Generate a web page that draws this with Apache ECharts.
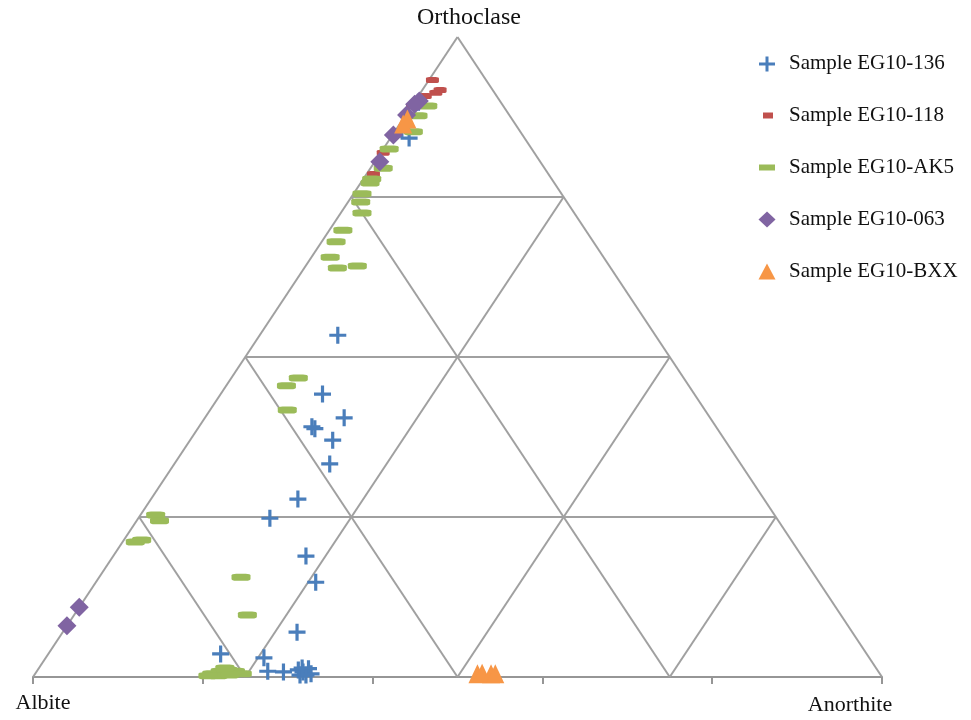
<!DOCTYPE html>
<html>
<head>
<meta charset="utf-8">
<script src="https://cdn.jsdelivr.net/npm/echarts@6/dist/echarts.min.js"></script>
<style>html,body{margin:0;padding:0;background:#fff;}#c{width:971px;height:720px;}</style>
</head>
<body>
<div id="c"></div>
<script>
// Ternary compositions [Or %, An %] (Ab = 100 - Or - An)
var seriesNames = ['Sample EG10-136', 'Sample EG10-118', 'Sample EG10-AK5', 'Sample EG10-063', 'Sample EG10-BXX'];
var vertexLabels = ['Orthoclase', 'Albite', 'Anorthite'];
var gridFractions = [25, 50, 75];
var baseTicks = [0, 20, 40, 60, 80, 100];

var eg136 = [
  [53.4, 9.2], [44.2, 12.0], [40.5, 16.4], [39.1, 13.3], [38.8, 13.8], [37.0, 16.8],
  [33.3, 18.3], [27.8, 17.3], [24.8, 15.5], [18.9, 22.7], [14.8, 25.9], [7.0, 27.6],
  [3.6, 20.3], [3.0, 25.7], [0.9, 27.2], [0.8, 29.1], [1.1, 30.7], [0.8, 31.4],
  [1.3, 31.8], [0.5, 32.5], [0.3, 31.3], [0.3, 32.0], [1.4, 31.0],
  [89.8, 0.5], [84.2, 2.2], [85.5, 0.7]
];
var eg118 = [
  [93.3, 0.4], [91.7, 2.1], [91.3, 1.8], [90.8, 0.8], [89.2, 0.1], [81.9, 0.3], [78.6, 0.8]
];
var egAK5 = [
  [89.2, 1.9], [87.7, 1.5], [85.2, 2.2], [82.5, 0.7], [79.5, 1.5], [77.8, 1.0], [77.2, 1.1],
  [75.5, 1.0], [74.2, 1.5], [72.5, 2.5], [69.8, 1.6], [68.0, 1.7], [65.6, 2.2], [63.9, 3.9],
  [64.2, 6.1], [46.7, 7.9], [45.5, 7.1], [41.7, 9.1], [25.3, 1.8], [24.4, 2.7], [21.4, 2.1],
  [21.1, 1.5], [15.6, 16.7], [9.7, 20.4],
  [0.5, 20.8], [0.9, 21.6], [1.1, 22.4], [0.9, 23.4], [0.5, 24.4], [0.2, 21.7], [0.3, 23.0],
  [1.4, 21.9], [0.2, 20.5]
];
var eg063 = [
  [10.9, 0.0], [8.0, 0.0], [80.5, 0.6], [84.7, 0.1], [87.8, 0.1], [90.0, 0.5], [89.5, 0.2]
];
var egBXX = [
  [86.4, 0.4], [87.2, 0.5], [0.5, 52.1], [0.6, 52.6], [0.5, 53.7], [0.5, 54.2]
];

function toXY(arr) {
  return arr.map(function (p) { var or = p[0], an = p[1]; return [an + or / 2, or]; });
}

// triangle outline + internal grid
var gridLines = [];
gridLines.push({coords: [[0, 0], [50, 100]]});
gridLines.push({coords: [[50, 100], [100, 0]]});
gridFractions.forEach(function (f) {
  gridLines.push({coords: [[f / 2, f], [100 - f / 2, f]]});             // constant Or
  gridLines.push({coords: [[f, 0], [f + (100 - f) / 2, 100 - f]]});     // constant An
  gridLines.push({coords: [[100 - f, 0], [(100 - f) / 2, 100 - f]]});   // constant Ab
});

var crossPath = 'path://M6.5,0H9.5V6.5H16V9.5H9.5V16H6.5V9.5H0V6.5H6.5Z';
// legend icons with a fixed 18x16 bounding box (degenerate corner segments)
var box = 'M0,0L0,0M18,16L18,16';
var iconCross = 'path://' + box + 'M7.5,1H10.5V7H17V10H10.5V16H7.5V10H1V7H7.5Z';
var iconRed = 'path://' + box + 'M5,5H15V11H5Z';
var iconGreen = 'path://' + box + 'M1,5H17V11H1Z';
var iconDiamond = 'path://' + box + 'M9,0L17.5,8L9,16L0.5,8Z';
var iconTri = 'path://' + box + 'M9,0L17.5,16H0.5Z';
var serif = '"Liberation Serif", "Times New Roman", serif';

var chart = echarts.init(document.getElementById('c'), null, {renderer: 'canvas'});
chart.setOption({
  animation: false,
  backgroundColor: '#fff',
  grid: {left: 33, right: 89, top: 37, bottom: 43},
  xAxis: {
    type: 'value', min: 0, max: 100, interval: 20,
    splitLine: {show: false},
    axisLabel: {show: false},
    axisLine: {show: true, lineStyle: {color: '#969696', width: 2}},
    axisTick: {show: true, length: 7, lineStyle: {color: '#969696', width: 2}}
  },
  yAxis: {
    type: 'value', min: 0, max: 100, show: false
  },
  legend: {
    orient: 'vertical', left: 753, top: 48, itemGap: 31,
    itemWidth: 18, itemHeight: 16,
    textStyle: {fontFamily: serif, fontSize: 21, color: '#111', padding: [0, 0, 0, 8]},
    data: [
      {name: seriesNames[0], icon: iconCross},
      {name: seriesNames[1], icon: iconRed},
      {name: seriesNames[2], icon: iconGreen},
      {name: seriesNames[3], icon: iconDiamond},
      {name: seriesNames[4], icon: iconTri}
    ]
  },
  graphic: [
    {type: 'text', style: {text: vertexLabels[0], x: 469, y: 18, fill: '#111', font: '24px ' + serif, textAlign: 'center', textVerticalAlign: 'middle'}},
    {type: 'text', style: {text: vertexLabels[1], x: 43, y: 703, fill: '#111', font: '22px ' + serif, textAlign: 'center', textVerticalAlign: 'middle'}},
    {type: 'text', style: {text: vertexLabels[2], x: 850, y: 705, fill: '#111', font: '22px ' + serif, textAlign: 'center', textVerticalAlign: 'middle'}}
  ],
  series: [
    {
      type: 'lines', coordinateSystem: 'cartesian2d', silent: true, z: 1,
      lineStyle: {color: '#a0a0a0', width: 2, opacity: 1},
      data: gridLines
    },
    {
      name: seriesNames[0], type: 'scatter', z: 3, data: toXY(eg136),
      symbol: crossPath, symbolSize: 17,
      itemStyle: {color: '#4a7ebb', opacity: 1}
    },
    {
      name: seriesNames[1], type: 'scatter', z: 3, data: toXY(eg118),
      symbol: 'roundRect', symbolSize: [13, 6],
      itemStyle: {color: '#c0504d', opacity: 1}
    },
    {
      name: seriesNames[2], type: 'scatter', z: 3, data: toXY(egAK5),
      symbol: 'roundRect', symbolSize: [19, 7],
      itemStyle: {color: '#9bbb59', opacity: 1}
    },
    {
      name: seriesNames[3], type: 'scatter', z: 4, data: toXY(eg063),
      symbol: 'diamond', symbolSize: [19, 19],
      itemStyle: {color: '#8064a2', opacity: 1}
    },
    {
      name: seriesNames[4], type: 'scatter', z: 5, data: toXY(egBXX),
      symbol: 'triangle', symbolSize: [18, 19],
      itemStyle: {color: '#f79646', opacity: 1}
    }
  ]
});
</script>
</body>
</html>
